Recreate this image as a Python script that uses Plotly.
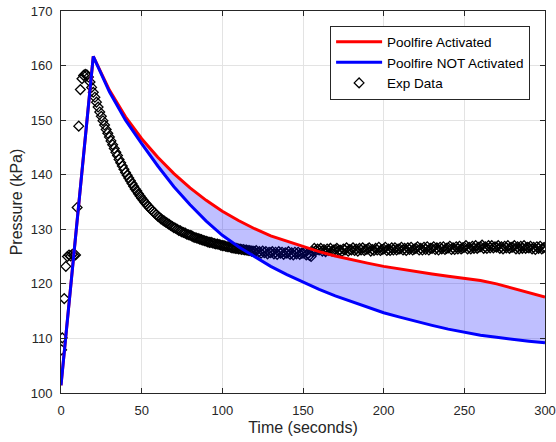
import plotly.graph_objects as go

# Model results
model_time = [0, 20, 30, 40, 50, 60, 70, 80, 90, 100, 110, 120, 130, 140, 150,
              160, 170, 180, 190, 200, 210, 220, 230, 240, 250, 260, 270, 280, 290, 300]
poolfire_on = [101.4, 161.7, 155.5, 150.6, 146.6, 143.2, 140.2, 137.6, 135.3, 133.3,
               131.6, 130.1, 128.8, 127.8, 126.8, 125.9, 125.1, 124.4, 123.8, 123.2,
               122.7, 122.2, 121.8, 121.4, 121.0, 120.6, 120.0, 119.2, 118.4, 117.6]
poolfire_off = [101.4, 161.7, 155.2, 150.0, 145.7, 141.6, 137.8, 134.5, 131.5, 128.9,
                126.8, 125.0, 123.2, 121.7, 120.3, 119.0, 117.8, 116.8, 115.7, 114.7,
                113.9, 113.1, 112.4, 111.7, 111.1, 110.6, 110.2, 109.8, 109.5, 109.2]

# Experimental data: sparse start-up samples, then one sample per second (17 s .. 300 s)
exp_time = [0.4, 0.8, 2, 3, 4, 5, 6, 7, 8, 9, 10, 11, 12, 13, 14, 15, 16] + list(range(17, 301))
exp_pressure = [
    107.9, 110.1, 117.3, 123.2, 125.0, 125.3, 125.1, 125.4, 125.2, 125.3,
    134.0, 148.9, 155.6, 157.6, 158.2, 158.4, 158.3,
    157.9, 157.0, 156.0,
    155.1, 154.2, 153.3, 152.4, 151.5, 150.7, 149.9, 149.1, 148.3, 147.6,
    146.9, 146.2, 145.5, 144.8, 144.1, 143.5, 142.8, 142.2, 141.6, 141.0,
    140.4, 139.9, 139.4, 138.9, 138.4, 137.9, 137.4, 137.0, 136.5, 136.1,
    135.7, 135.3, 134.9, 134.6, 134.2, 133.9, 133.6, 133.3, 133.0, 132.7,
    132.4, 132.2, 131.9, 131.7, 131.5, 131.3, 131.1, 130.9, 130.7, 130.5,
    130.3, 130.2, 130.0, 129.8, 129.7, 129.5, 129.4, 129.3, 129.1, 129.0,
    128.9, 128.8, 128.6, 128.5, 128.4, 128.3, 128.2, 128.1, 128.0, 127.9,
    127.8, 127.7, 127.6, 127.6, 127.5, 127.4, 127.3, 127.3, 127.2, 127.1,
    127.0, 127.0, 126.9, 126.8, 126.8, 126.7, 126.6, 126.6, 126.5, 126.5,
    126.4, 126.4, 126.3, 126.3, 126.2, 126.2, 126.1, 126.1, 126.0, 126.0,
    125.9, 126.1, 125.7, 125.9, 125.6, 126.0, 125.7, 125.9, 125.5, 125.8,
    125.7, 125.9, 125.5, 125.8, 125.4, 125.9, 125.6, 125.8, 125.4, 125.7,
    125.6, 125.9, 125.4, 125.7, 125.3, 125.8, 125.5, 125.8, 125.4, 125.6,
    125.6, 125.8, 125.3, 125.5, 125.2, 125.0, 125.9, 126.5, 126.1, 126.4,
    126.2, 126.5, 126.0, 126.3, 125.9, 126.4, 126.1, 126.5, 126.0, 126.2,
    126.3, 126.5, 126.1, 126.2, 125.9, 126.4, 126.2, 126.6, 126.0, 126.3,
    126.2, 126.6, 126.1, 126.4, 126.0, 126.5, 126.2, 126.6, 126.1, 126.3,
    126.4, 126.6, 126.0, 126.3, 126.1, 126.5, 126.2, 126.7, 126.1, 126.3,
    126.4, 126.7, 126.1, 126.4, 126.1, 126.6, 126.2, 126.6, 126.2, 126.4,
    126.4, 126.7, 126.2, 126.5, 126.1, 126.6, 126.3, 126.7, 126.2, 126.4,
    126.5, 126.8, 126.2, 126.5, 126.2, 126.7, 126.3, 126.8, 126.2, 126.5,
    126.5, 126.8, 126.3, 126.6, 126.2, 126.7, 126.4, 126.8, 126.3, 126.5,
    126.6, 126.9, 126.3, 126.6, 126.3, 126.8, 126.4, 126.9, 126.4, 126.6,
    126.7, 127.0, 126.4, 126.7, 126.4, 126.9, 126.5, 127.0, 126.5, 126.7,
    126.8, 127.1, 126.5, 126.8, 126.5, 127.0, 126.6, 127.0, 126.6, 126.8,
    126.7, 127.0, 126.5, 126.8, 126.4, 126.9, 126.6, 127.0, 126.5, 126.7,
    126.7, 127.0, 126.4, 126.8, 126.4, 126.9, 126.5, 127.0, 126.5, 126.7,
    126.6, 126.9, 126.4, 126.7, 126.3, 126.8, 126.5, 126.9, 126.4, 126.6,
    126.7]

x_ticks = [0, 50, 100, 150, 200, 250, 300]
y_ticks = [100, 110, 120, 130, 140, 150, 160, 170]

INK = "#262626"
GRID = "#e3e3e3"
FONT = "Liberation Sans, Arial"

fig = go.Figure()

fig.add_trace(go.Scatter(
    x=exp_time, y=exp_pressure, mode="markers", name="Exp Data",
    marker=dict(symbol="diamond-open", size=7.5, color="black", line=dict(width=1.3, color="black")),
    legendrank=3))

# band between the two model curves
fig.add_trace(go.Scatter(
    x=model_time, y=poolfire_off, mode="lines", line=dict(width=0, color="blue"),
    showlegend=False, hoverinfo="skip"))
fig.add_trace(go.Scatter(
    x=model_time, y=poolfire_on, mode="lines", line=dict(width=0, color="red"),
    fill="tonexty", fillcolor="rgba(0,0,255,0.25)",
    showlegend=False, hoverinfo="skip"))

fig.add_trace(go.Scatter(
    x=model_time, y=poolfire_on, mode="lines", name="Poolfire Activated",
    line=dict(color="#ff0000", width=3), legendrank=1))

fig.add_trace(go.Scatter(
    x=model_time, y=poolfire_off, mode="lines", name="Poolfire NOT Activated",
    line=dict(color="#0000ff", width=3), legendrank=2))

axis_common = dict(
    showline=True, linecolor=INK, linewidth=1, mirror="ticks", automargin=False,
    ticks="inside", ticklen=5, tickcolor=INK, showgrid=True, gridcolor=GRID,
    gridwidth=1, zeroline=False, tickfont=dict(family=FONT, size=13, color=INK),
)

fig.update_xaxes(range=[0, 300], tickvals=x_ticks, ticklabelstandoff=5,
                 title=dict(text="Time (seconds)", standoff=5,
                            font=dict(family=FONT, size=16, color=INK)),
                 **axis_common)
fig.update_yaxes(range=[100, 170], tickvals=y_ticks, ticklabelstandoff=5,
                 title=dict(text="Pressure (kPa)", standoff=4,
                            font=dict(family=FONT, size=16, color=INK)),
                 **axis_common)

fig.update_layout(
    width=556, height=442,
    margin=dict(l=61, r=11, t=11, b=49),
    paper_bgcolor="white", plot_bgcolor="white",
    showlegend=True,
    legend=dict(x=0.556, y=0.962, xanchor="left", yanchor="top",
                bgcolor="white", bordercolor=INK, borderwidth=1,
                font=dict(family=FONT, size=13.5, color="black"),
                traceorder="normal", tracegroupgap=0, itemwidth=46),
)

fig.write_html("out.html")
